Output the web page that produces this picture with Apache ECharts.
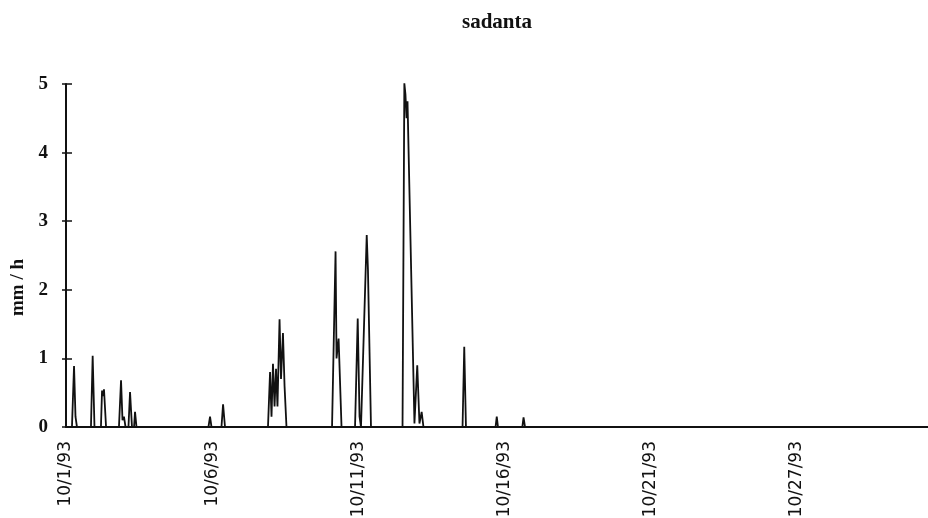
<!DOCTYPE html>
<html>
<head>
<meta charset="utf-8">
<script src="https://cdn.jsdelivr.net/npm/echarts@6/dist/echarts.min.js"></script>
<style>
html,body{margin:0;padding:0;background:#fff;}
#chart{width:928px;height:518px;}
</style>
</head>
<body>
<div id="chart"></div>
<script>
// Tick labels on the x axis (one every 120 hours)
const xTickLabels = ['10/1/93', '10/6/93', '10/11/93', '10/16/93', '10/21/93', '10/27/93'];
const xTickStep = 120;
const xMax = 708;

// Rain intensity series: time (hours since 10/1/93) and mm/h values
const hours = [
  0, 4.9, 6.6, 7.8, 9.0,
  20.5, 21.9, 23.4,
  28.7, 29.6, 30.4, 31.2, 32.9,
  43.5, 45.2, 46.4, 47.6, 48.9,
  51.3, 52.6, 54.2,
  55.9, 56.7, 57.9,
  117.0, 118.3, 119.5,
  127.7, 129.0, 129.5, 130.6,
  165.9, 167.6, 168.8, 170.0, 171.3, 172.5, 173.7, 175.4, 176.6, 178.2, 179.5, 181.1,
  218.5, 221.4, 222.2, 223.9, 226.3,
  237.4, 239.6, 241.1, 242.3,
  243.9, 247.0, 248.0, 250.5,
  276.4, 277.9, 278.8, 279.7, 280.5, 286.2,
  288.5, 290.3, 292.1, 293.6,
  325.7, 327.1, 328.5,
  352.8, 353.8, 354.8,
  374.8, 375.8, 377.0,
  708
];
const rain = [
  0, 0, 0.89, 0.15, 0,
  0, 1.04, 0,
  0, 0.53, 0.45, 0.55, 0,
  0, 0.68, 0.10, 0.15, 0,
  0, 0.51, 0,
  0, 0.22, 0,
  0, 0.15, 0,
  0, 0.33, 0.35, 0,
  0, 0.80, 0.15, 0.92, 0.30, 0.85, 0.30, 1.57, 0.70, 1.37, 0.60, 0,
  0, 2.56, 1.00, 1.29, 0,
  0, 1.58, 0.15, 0,
  0, 2.80, 2.30, 0,
  0, 5.01, 4.85, 4.50, 4.75, 0.05,
  0.90, 0.05, 0.22, 0,
  0, 1.17, 0,
  0, 0.15, 0,
  0, 0.14, 0,
  0
];

const yTickLabels = ['0', '1', '2', '3', '4', '5'];

const seriesData = hours.map((h, i) => [h, rain[i]]);

const chart = echarts.init(document.getElementById('chart'), null, {renderer: 'canvas'});
chart.setOption({
  backgroundColor: '#ffffff',
  animation: false,
  title: {
    text: 'sadanta',
    left: 492,
    top: 7,
    textAlign: 'center',
    textStyle: {
      fontFamily: 'Liberation Serif',
      fontWeight: 'bold',
      fontSize: 21,
      color: '#111'
    }
  },
  grid: {left: 66, right: 0, top: 84, bottom: 91, containLabel: false, outerBoundsMode: 'none'},
  xAxis: {
    type: 'value',
    min: 0,
    max: xMax,
    interval: xTickStep,
    axisLine: {show: true, lineStyle: {color: '#111', width: 2}},
    axisTick: {show: false},
    splitLine: {show: false},
    axisLabel: {
      rotate: 90,
      margin: 14,
      showMaxLabel: false,
      fontFamily: 'DejaVu Sans',
      fontSize: 17,
      color: '#111',
      formatter: function (v) {
        const k = Math.round(v / xTickStep);
        return (Math.abs(v - k * xTickStep) < 1e-6 && xTickLabels[k]) ? xTickLabels[k] : '';
      }
    }
  },
  yAxis: [{
    type: 'value',
    min: 0,
    max: 5,
    interval: 1,
    name: 'mm / h',
    nameLocation: 'middle',
    nameRotate: 90,
    nameGap: 38,
    nameTextStyle: {
      fontFamily: 'Liberation Serif',
      fontWeight: 'bold',
      fontSize: 19,
      color: '#111',
      padding: [0, 64, 0, 0]
    },
    axisLine: {show: true, lineStyle: {color: '#111', width: 2}},
    axisTick: {show: true, length: 4, lineStyle: {color: '#111', width: 1.5}},
    splitLine: {show: false},
    axisLabel: {
      margin: 18,
      fontFamily: 'Liberation Serif',
      fontWeight: 'bold',
      fontSize: 19,
      color: '#111',
      formatter: function (v) { return yTickLabels[Math.round(v)]; }
    }
  }, {
    type: 'value',
    min: 0,
    max: 5,
    interval: 1,
    position: 'left',
    offset: 0,
    axisLine: {show: false},
    axisTick: {show: true, inside: true, length: 6, lineStyle: {color: '#111', width: 1.5}},
    axisLabel: {show: false},
    splitLine: {show: false}
  }],
  series: [{
    type: 'line',
    data: seriesData,
    showSymbol: false,
    yAxisIndex: 0,
    lineStyle: {color: '#111', width: 1.8},
    z: 3
  }]
});
</script>
</body>
</html>
